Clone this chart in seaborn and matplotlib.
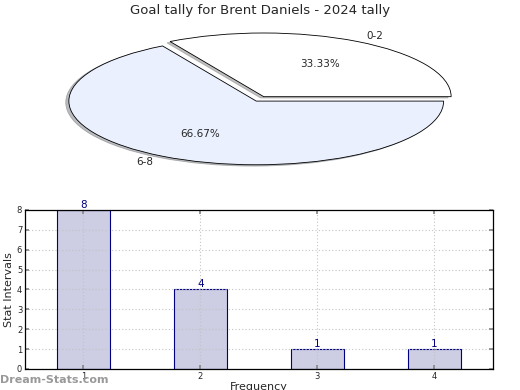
import matplotlib
matplotlib.use("Agg")
import matplotlib.pyplot as plt
import seaborn as sns
import pandas as pd

# pie data
pie_labels = ["0-2", "6-8"]
pie_values = [1, 2]
pie_colors = ["#ffffff", "#eaf0fd"]

# bar data
frequency = [1, 2, 3, 4]
stat_counts = [8, 4, 1, 1]

title = "Goal tally for Brent Daniels - 2024 tally"

sns.set_theme(style="white")
plt.rcParams['font.family'] = ['DejaVu Sans']

fig = plt.figure(figsize=(5.2, 3.9), dpi=100)
fig.suptitle(title, y=0.972, va="center", fontsize=9.5)

# pie (flattened to an ellipse)
ax_pie = fig.add_axes([0.1, 0.5603, 0.8, 0.3723])
wedges, texts, autotexts = ax_pie.pie(
    pie_values, labels=pie_labels, colors=pie_colors,
    autopct="%.2f%%", startangle=0, explode=(0.04, 0.04),
    shadow={'ox': -0.012, 'oy': -0.015, 'shade': 0.5},
    wedgeprops=dict(edgecolor="black", linewidth=0.6),
    textprops=dict(fontsize=7.5),
)
ax_pie.set_aspect("auto")
ax_pie.set_xlim(-1.11, 1.11)
ax_pie.set_ylim(-1.14, 1.14)
ax_pie.axis("off")

# bars
df = pd.DataFrame({"Frequency": frequency, "Count": stat_counts})
ax = fig.add_axes([0.048, 0.054, 0.9, 0.4077])
sns.barplot(data=df, x="Frequency", y="Count", native_scale=True, width=0.45,
            color="#cdcde3", saturation=1, edgecolor="#000080", linewidth=0.8, ax=ax)
for x, v in zip(frequency, stat_counts):
    ax.text(x, v, str(v), ha="center", va="bottom", color="#000080", fontsize=7.5)
ax.set_xlim(0.5, 4.5)
ax.set_ylim(0, 8)
ax.set_xticks(frequency)
ax.set_yticks(range(0, 9))
ax.grid(True, linestyle=(0, (1, 2)), color="#c4c4c4", linewidth=0.8)
ax.set_axisbelow(False)
ax.tick_params(direction="in", top=True, right=True, length=3, labelsize=6,
               color="#888888", pad=2, bottom=True, left=True)
for s in ax.spines.values():
    s.set_color("black")
    s.set_linewidth(0.9)
    s.set_zorder(5)
ax.set_ylabel("Stat Intervals", fontsize=8, labelpad=2)
ax.set_xlabel("Frequency", fontsize=8, labelpad=1)

fig.text(0.0, 0.025, "Dream-Stats.com", color="#999999", fontsize=8,
         fontweight="bold", va="center", ha="left")

fig.savefig("out.png", dpi=100)
